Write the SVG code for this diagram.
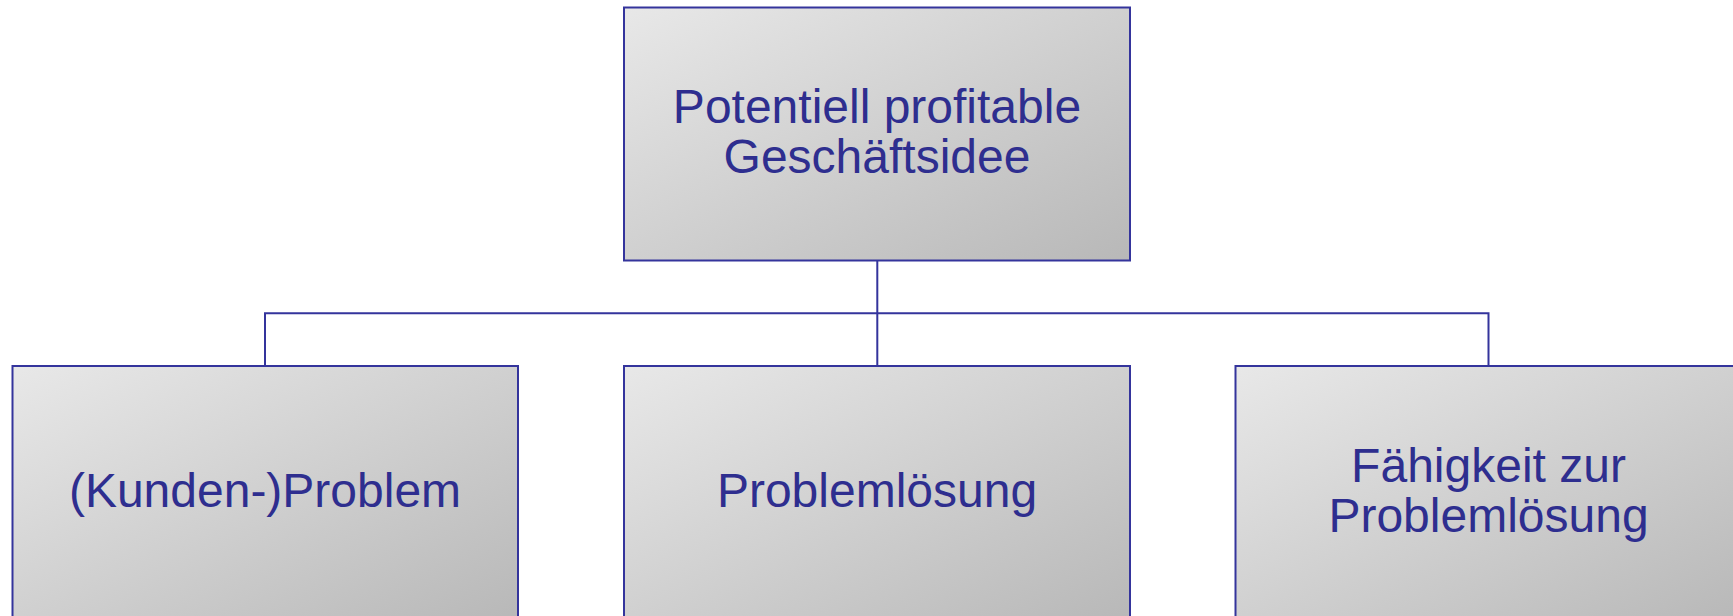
<svg xmlns="http://www.w3.org/2000/svg" width="1733" height="616" viewBox="0 0 1733 616">
<defs>
<linearGradient id="g" x1="0" y1="0" x2="1" y2="1">
<stop offset="0" stop-color="#e8e8e8"/>
<stop offset="1" stop-color="#b8b8b8"/>
</linearGradient>
<style>
.box{fill:url(#g);stroke:#34349c;stroke-width:2}
.lbl{font-family:"Liberation Sans",Arial,sans-serif;font-size:48px;fill:#2e2e8f;text-anchor:middle}
.con{fill:none;stroke:#34349c;stroke-width:2}
</style>
</defs>
<rect width="1733" height="616" fill="#ffffff"/>
<g id="connectors">
<path class="con" d="M877.3 260.5V366M265 366V313.3H1488.5V366"/>
</g>
<g id="top">
<rect class="box" x="624" y="7.5" width="506" height="253"/>
<text class="lbl" x="877" y="123.3">Potentiell profitable</text>
<text class="lbl" x="877" y="172.7">Geschäftsidee</text>
</g>
<g id="kundenproblem">
<rect class="box" x="12.5" y="366" width="505.5" height="253"/>
<text class="lbl" x="265" y="506.7">(Kunden-)Problem</text>
</g>
<g id="problemloesung">
<rect class="box" x="624" y="366" width="506" height="253"/>
<text class="lbl" x="877" y="506.7">Problemlösung</text>
</g>
<g id="faehigkeit">
<rect class="box" x="1235.5" y="366" width="506" height="253"/>
<text class="lbl" x="1488.5" y="481.7">Fähigkeit zur</text>
<text class="lbl" x="1488.5" y="531.7">Problemlösung</text>
</g>
</svg>
